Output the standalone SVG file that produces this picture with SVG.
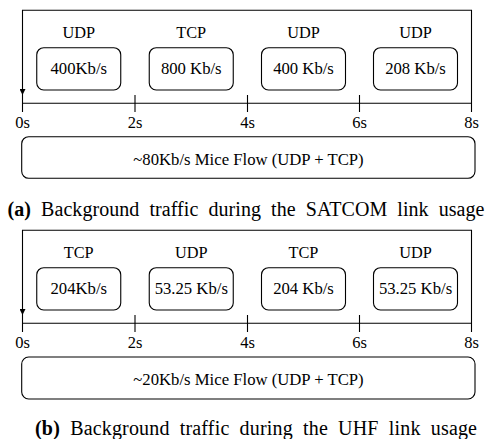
<svg xmlns="http://www.w3.org/2000/svg" width="487" height="439" viewBox="0 0 487 439">
<defs>
<style>
text{font-family:"Liberation Serif","Times New Roman",serif;fill:#000}
.lbl{font-size:16.3px;text-anchor:middle}
.val{font-size:16.7px;text-anchor:middle}
.tk{font-size:16.5px;text-anchor:middle}
.cap{font-size:20px;word-spacing:5px}
.box{fill:#fff;stroke:#000;stroke-width:1.1}
.ln{fill:none;stroke:#000;stroke-width:1.1}
</style>
<marker id="ah" viewBox="0 0 10 10" refX="10" refY="5" markerWidth="6" markerHeight="6" markerUnits="userSpaceOnUse" orient="auto">
<path d="M0,0 L10,5 L0,10 z" fill="#000"/>
</marker>
</defs>
<rect width="487" height="439" fill="#fff"/>

<!-- Panel (a) -->
<g id="connectors-a">
<path class="ln" d="M471.5,112 V10.3 H22.5 V95" marker-end="url(#ah)"/>
<line class="ln" x1="22.5" y1="103.3" x2="471.5" y2="103.3"/>
<path class="ln" d="M22.5,95 V112 M135,95 V112 M247.5,95 V112 M359.5,95 V112"/>
</g>
<g id="a-seg1"><text class="lbl" x="78.75" y="38.3">UDP</text><rect class="box" x="36.75" y="47.7" width="84" height="42.3" rx="7"/><text class="val" x="78.75" y="74">400Kb/s</text></g>
<g id="a-seg2"><text class="lbl" x="191.25" y="38.3">TCP</text><rect class="box" x="149.25" y="47.7" width="84" height="42.3" rx="7"/><text class="val" x="191.25" y="74">800 Kb/s</text></g>
<g id="a-seg3"><text class="lbl" x="303.5" y="38.3">UDP</text><rect class="box" x="261.5" y="47.7" width="84" height="42.3" rx="7"/><text class="val" x="303.5" y="74">400 Kb/s</text></g>
<g id="a-seg4"><text class="lbl" x="415.5" y="38.3">UDP</text><rect class="box" x="373.5" y="47.7" width="84" height="42.3" rx="7"/><text class="val" x="415.5" y="74">208 Kb/s</text></g>
<g id="a-ticks">
<text class="tk" x="22.5" y="127.5">0s</text>
<text class="tk" x="135" y="127.5">2s</text>
<text class="tk" x="247.5" y="127.5">4s</text>
<text class="tk" x="359.5" y="127.5">6s</text>
<text class="tk" x="471.5" y="127.5">8s</text>
</g>
<g id="a-mice"><rect class="box" x="21.7" y="136.7" width="453.3" height="41.6" rx="7"/><text class="val" x="248.5" y="165">~80Kb/s Mice Flow (UDP + TCP)</text></g>
<text class="cap" x="7.5" y="216" textLength="477" lengthAdjust="spacing"><tspan font-weight="bold">(a)</tspan> Background traffic during the SATCOM link usage</text>

<!-- Panel (b) -->
<g id="connectors-b">
<path class="ln" d="M471.5,332 V230.3 H22.5 V315" marker-end="url(#ah)"/>
<line class="ln" x1="22.5" y1="323.3" x2="471.5" y2="323.3"/>
<path class="ln" d="M22.5,315 V332 M135,315 V332 M247.5,315 V332 M359.5,315 V332"/>
</g>
<g id="b-seg1"><text class="lbl" x="78.75" y="258.3">TCP</text><rect class="box" x="36.75" y="267.7" width="84" height="42.3" rx="7"/><text class="val" x="78.75" y="294">204Kb/s</text></g>
<g id="b-seg2"><text class="lbl" x="191.25" y="258.3">UDP</text><rect class="box" x="149.25" y="267.7" width="84" height="42.3" rx="7"/><text class="val" x="191.25" y="294">53.25 Kb/s</text></g>
<g id="b-seg3"><text class="lbl" x="303.5" y="258.3">TCP</text><rect class="box" x="261.5" y="267.7" width="84" height="42.3" rx="7"/><text class="val" x="303.5" y="294">204 Kb/s</text></g>
<g id="b-seg4"><text class="lbl" x="415.5" y="258.3">UDP</text><rect class="box" x="373.5" y="267.7" width="84" height="42.3" rx="7"/><text class="val" x="415.5" y="294">53.25 Kb/s</text></g>
<g id="b-ticks">
<text class="tk" x="22.5" y="347.5">0s</text>
<text class="tk" x="135" y="347.5">2s</text>
<text class="tk" x="247.5" y="347.5">4s</text>
<text class="tk" x="359.5" y="347.5">6s</text>
<text class="tk" x="471.5" y="347.5">8s</text>
</g>
<g id="b-mice"><rect class="box" x="21.7" y="357" width="453.3" height="42" rx="7"/><text class="val" x="248.5" y="385">~20Kb/s Mice Flow (UDP + TCP)</text></g>
<text class="cap" x="35" y="435" textLength="442" lengthAdjust="spacing"><tspan font-weight="bold">(b)</tspan> Background traffic during the UHF link usage</text>
</svg>
